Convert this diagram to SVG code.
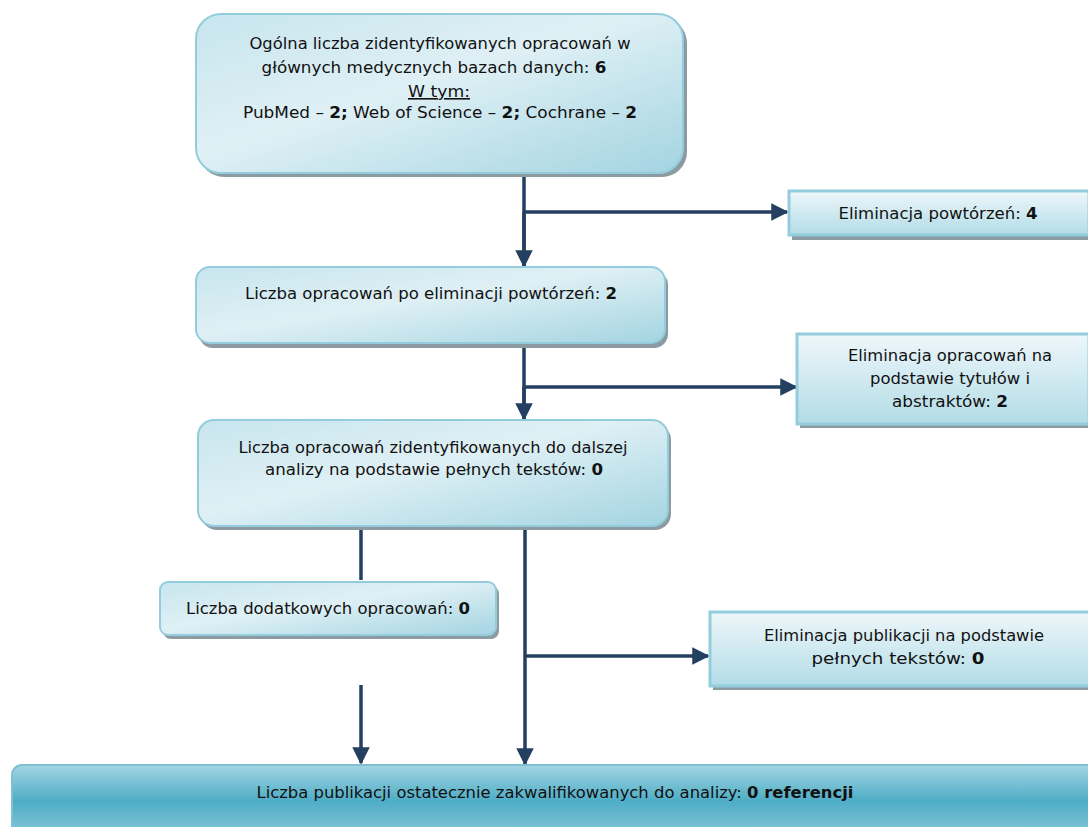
<svg xmlns="http://www.w3.org/2000/svg" width="1088" height="827" viewBox="0 0 1088 827">
<defs>
<linearGradient id="g" x1="0" y1="0" x2="1" y2="1">
<stop offset="0" stop-color="#c8e5ee"/>
<stop offset="0.45" stop-color="#dff0f5"/>
<stop offset="1" stop-color="#a3d4e1"/>
</linearGradient>
<linearGradient id="gr" x1="0" y1="0" x2="0" y2="1">
<stop offset="0" stop-color="#eef7fa"/>
<stop offset="1" stop-color="#b2dce7"/>
</linearGradient>
<linearGradient id="gb" x1="0" y1="0" x2="0" y2="1">
<stop offset="0" stop-color="#a3d5e2"/>
<stop offset="0.5" stop-color="#4eadc6"/>
<stop offset="1" stop-color="#86c7d7"/>
</linearGradient>
<marker id="ah" viewBox="0 0 10 10" refX="9" refY="5" markerWidth="5" markerHeight="5" orient="auto" markerUnits="strokeWidth">
<path d="M0,0 L10,5 L0,10 z" fill="#243f60"/>
</marker>
</defs>
<style>
.sh{fill:#8c9ba2;}
.bx{fill:url(#g);stroke:#93cddd;stroke-width:2;}
.rx{fill:url(#gr);stroke:#93cddd;stroke-width:3;}
.bb{fill:url(#gb);stroke:#7fc0d2;stroke-width:2;}
text{font-family:"DejaVu Sans","Verdana",sans-serif;font-size:16px;fill:#111;text-anchor:middle;}
.b{font-weight:bold;}
.ln{stroke:#243f60;stroke-width:3.5;fill:none;}
.ar{marker-end:url(#ah);}
</style>
<g id="connectors">
<line class="ln" x1="524" y1="173" x2="524" y2="266"/>
<line class="ln ar" x1="524" y1="212" x2="787" y2="212"/>
<line class="ln ar" x1="524" y1="212" x2="524" y2="266"/>
<line class="ln" x1="524" y1="346" x2="524" y2="419"/>
<line class="ln ar" x1="524" y1="387" x2="796" y2="387"/>
<line class="ln ar" x1="524" y1="387" x2="524" y2="419"/>
<line class="ln" x1="361" y1="528" x2="361" y2="580"/>
<line class="ln ar" x1="525" y1="528" x2="525" y2="764"/>
<line class="ln ar" x1="525" y1="656" x2="708" y2="656"/>
<line class="ln ar" x1="361" y1="685" x2="361" y2="763"/>
</g>
<g id="n1">
<rect class="sh" x="199" y="18" width="488" height="159" rx="25"/>
<rect class="bx" x="196" y="14" width="487" height="159" rx="25"/>
<text x="440" y="49" textLength="381" lengthAdjust="spacingAndGlyphs">Ogólna liczba zidentyfikowanych opracowań w</text>
<text x="434" y="73" textLength="345" lengthAdjust="spacingAndGlyphs">głównych medycznych bazach danych: <tspan class="b">6</tspan></text>
<text x="439" y="97" textLength="62" lengthAdjust="spacingAndGlyphs" text-decoration="underline">W tym:</text>
<text x="440" y="118" textLength="394" lengthAdjust="spacingAndGlyphs">PubMed – <tspan class="b">2;</tspan> Web of Science – <tspan class="b">2;</tspan> Cochrane – <tspan class="b">2</tspan></text>
</g>
<g id="n2">
<rect class="sh" x="792" y="195" width="300" height="45"/>
<rect class="rx" x="789" y="191" width="300" height="44"/>
<text x="938" y="219" textLength="199" lengthAdjust="spacingAndGlyphs">Eliminacja powtórzeń: <tspan class="b">4</tspan></text>
</g>
<g id="n3">
<rect class="sh" x="199" y="271" width="469" height="77" rx="14"/>
<rect class="bx" x="196" y="267" width="469" height="76" rx="14"/>
<text x="431" y="299" textLength="372" lengthAdjust="spacingAndGlyphs">Liczba opracowań po eliminacji powtórzeń: <tspan class="b">2</tspan></text>
</g>
<g id="n4">
<rect class="sh" x="800" y="337" width="292" height="91"/>
<rect class="rx" x="797" y="334" width="292" height="90"/>
<text x="950" y="361" textLength="204" lengthAdjust="spacingAndGlyphs">Eliminacja opracowań na</text>
<text x="950" y="384" textLength="160" lengthAdjust="spacingAndGlyphs">podstawie tytułów i</text>
<text x="950" y="407" textLength="116" lengthAdjust="spacingAndGlyphs">abstraktów: <tspan class="b">2</tspan></text>
</g>
<g id="n5">
<rect class="sh" x="201" y="424" width="470" height="106" rx="16"/>
<rect class="bx" x="198" y="420" width="470" height="106" rx="16"/>
<text x="433" y="453" textLength="389" lengthAdjust="spacingAndGlyphs">Liczba opracowań zidentyfikowanych do dalszej</text>
<text x="434" y="475" textLength="338" lengthAdjust="spacingAndGlyphs">analizy na podstawie pełnych tekstów: <tspan class="b">0</tspan></text>
</g>
<g id="n6">
<rect class="sh" x="163" y="586" width="336" height="53" rx="8"/>
<rect class="bx" x="160" y="582" width="336" height="53" rx="8"/>
<text x="328" y="614" textLength="284" lengthAdjust="spacingAndGlyphs">Liczba dodatkowych opracowań: <tspan class="b">0</tspan></text>
</g>
<g id="n7">
<rect class="sh" x="713" y="616" width="380" height="74"/>
<rect class="rx" x="710" y="612" width="380" height="74"/>
<text x="904" y="641" textLength="280" lengthAdjust="spacingAndGlyphs">Eliminacja publikacji na podstawie</text>
<text x="898" y="664" textLength="173" lengthAdjust="spacingAndGlyphs">pełnych tekstów: <tspan class="b">0</tspan></text>
</g>
<g id="n8">
<rect class="bb" x="12" y="765" width="1090" height="72" rx="10"/>
<text x="555" y="798" textLength="597" lengthAdjust="spacingAndGlyphs" style="font-size:15px">Liczba publikacji ostatecznie zakwalifikowanych do analizy: <tspan class="b">0 referencji</tspan></text>
</g>
</svg>
